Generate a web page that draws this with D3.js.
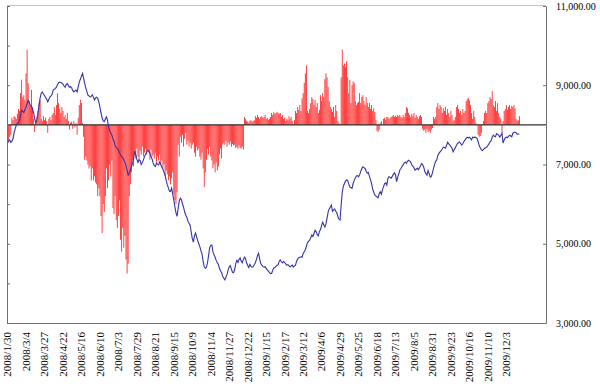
<!DOCTYPE html>
<html>
<head>
<meta charset="utf-8">
<script src="https://cdn.jsdelivr.net/npm/d3@7"></script>
<style>
   body { margin: 0; background: #fff; }
   svg text { font-family: "Liberation Serif", "Times New Roman", serif; fill: #000; }
</style>
</head>
<body>
<svg id="chart" width="600" height="387"></svg>
<script>
// one label every 17 trading days
var tickLabels = ["2008/1/30", "2008/3/4", "2008/3/27", "2008/4/22", "2008/5/16", "2008/6/10", "2008/7/3",
   "2008/7/29", "2008/8/21", "2008/9/15", "2008/10/9", "2008/11/4", "2008/11/27", "2008/12/22",
   "2009/1/15", "2009/2/17", "2009/3/12", "2009/4/6", "2009/4/29", "2009/5/25", "2009/6/18",
   "2009/7/13", "2009/8/5", "2009/8/31", "2009/9/23", "2009/10/16", "2009/11/10", "2009/12/3"];

// index close, one per trading day (right axis)
var indexVals = [
   7540, 7590, 7620, 7560, 7580, 7650, 7800, 7900, 7990, 8030,
   8060, 8120, 8250, 8370, 8340, 8310, 8380, 8450, 8540, 8620,
   8560, 8500, 8470, 8400, 8300, 8150, 8050, 8120, 8300, 8500,
   8680, 8800, 8830, 8780, 8740, 8690, 8650, 8580, 8640, 8700,
   8730, 8770, 8880, 8900, 8920, 8950, 9020, 9060, 9080, 9070,
   9050, 9030, 8980, 8950, 9020, 9040, 8990, 8950, 8970, 8930,
   8870, 8830, 8860, 8880, 8830, 8950, 9080, 9150, 9230, 9300,
   9180, 9050, 8930, 8840, 8750, 8730, 8700, 8720, 8760, 8700,
   8630, 8680, 8700, 8670, 8580, 8450, 8300, 8180, 8100, 8080,
   8150, 8200, 8120, 7950, 7850, 7790, 7740, 7650, 7580, 7470,
   7430, 7400, 7360, 7300, 7240, 7200, 7170, 7120, 7050, 6980,
   6850, 6730, 6780, 6860, 6940, 7030, 7150, 7340, 7250, 7130,
   7050, 7120, 7100, 7000, 7050, 7110, 7200, 7260, 7310, 7360,
   7340, 7290, 7200, 7140, 7040, 6970, 6950, 7030, 7010, 6990,
   7060, 7000, 6930, 6880, 6800, 6730, 6600, 6490, 6410, 6330,
   6320, 6400, 6250, 6100, 5930, 5780, 5690, 5900, 6080, 6150,
   6110, 6010, 5920, 5800, 5720, 5670, 5570, 5520, 5470, 5300,
   5130, 5040, 5200, 5270, 5170, 5080, 5000, 4920, 4820, 4740,
   4550, 4420, 4380, 4400, 4520, 4700, 4900, 4960, 4970, 4800,
   4720, 4660, 4580, 4520, 4480, 4380, 4320, 4270, 4180, 4130,
   4090, 4160, 4220, 4340, 4420, 4450, 4360, 4280, 4270, 4350,
   4500, 4580, 4530, 4600, 4640, 4560, 4520, 4600, 4660, 4620,
   4520, 4450, 4400, 4480, 4430, 4410, 4420, 4470, 4520, 4600,
   4700, 4760, 4620, 4500, 4460, 4430, 4410, 4420, 4380, 4340,
   4310, 4270, 4250, 4250, 4330, 4390, 4400, 4430, 4460, 4470,
   4560, 4590, 4540, 4520, 4550, 4530, 4490, 4460, 4470, 4440,
   4420, 4440, 4460, 4410, 4440, 4460, 4560, 4620, 4650, 4660,
   4670, 4660, 4750, 4800, 4850, 4930, 5030, 5060, 5090, 5150,
   5220, 5180, 5260, 5340, 5300, 5230, 5200, 5310, 5360, 5460,
   5540, 5480, 5420, 5500, 5640, 5800, 5880, 5930, 5980, 5820,
   5850, 5880, 5820, 5780, 5680, 5620, 5600, 5980, 6300, 6450,
   6520, 6580, 6610, 6600, 6510, 6430, 6420, 6400, 6520, 6600,
   6660, 6710, 6720, 6690, 6740, 6820, 6900, 6940, 6920, 6900,
   6830, 6780, 6800, 6700, 6620, 6520, 6380, 6300, 6230, 6200,
   6180, 6160, 6260, 6310, 6250, 6360, 6440, 6520, 6540, 6480,
   6650, 6690, 6680, 6650, 6700, 6750, 6790, 6740, 6570, 6680,
   6760, 6860, 6900, 6950, 6990, 7040, 7060, 7030, 7080, 7110,
   7090, 7060, 6990, 6960, 6920, 6860, 6880, 6910, 6870, 6920,
   6960, 7020, 7000, 6930, 6820, 6770, 6730, 6850, 6770, 6680,
   6700, 6790, 6900, 7010, 7080, 7120, 7230, 7280, 7320, 7350,
   7390, 7440, 7430, 7410, 7480, 7560, 7520, 7490, 7450, 7410,
   7320, 7380, 7420, 7480, 7530, 7550, 7570, 7530, 7490, 7530,
   7580, 7620, 7660, 7690, 7670, 7690, 7660, 7620, 7690, 7680,
   7690, 7680, 7660, 7580, 7480, 7420, 7370, 7350, 7380, 7410,
   7420, 7440, 7480, 7520, 7570, 7600, 7690, 7740, 7710, 7700,
   7780, 7760, 7740, 7690, 7740, 7790, 7540, 7620, 7670, 7690,
   7680, 7710, 7740, 7720, 7700, 7790, 7810, 7820, 7800, 7760,
   7770, 7770
];

// bar series, one per trading day (left axis, unlabeled)
var barVals = [
   -0.45, -0.4, -0.3, -0.25, 0.18, 0.12, 0.22, 0.2, 0.15, 0.28,
   0.4, 0.35, 0.8, 1.14, 0.7, 0.75, 0.62, 1.3, 1.9, 1.05,
   0.6, 0.5, 0.88, 0.45, 0.15, -0.18, 0.1, 0.2, 0.35, 0.55,
   0.62, 0.15, 0.1, 0.22, 0.12, 0.18, 0.1, -0.2, 0.15, 0.2,
   0.12, 0.25, 0.3, 0.45, 0.25, 0.5, 0.8, 0.55, 0.4, 0.3,
   0.45, 0.35, 0.2, 0.25, 0.15, 0.3, 0.1, -0.12, 0.05, 0.08,
   -0.1, 0.1, -0.05, 0.05, -0.25, 0.18, 0.5, 0.63, 0.55, 0.05,
   -0.3, -0.88, -0.8, -0.9, -1.0, -1.1, -1.05, -1.4, -1.1, -1.4,
   -1.3, -1.45, -1.5, -1.8, -1.6, -1.8, -2.3, -2.73, -2.0, -2.2,
   -1.8, -1.1, -1.6, -1.4, -1.0, -1.3, -0.9, -2.1, -2.25, -1.8,
   -2.4, -2.6, -2.3, -1.9, -2.9, -3.2, -2.6, -3.1, -2.8, -3.4,
   -3.75, -3.5, -1.8, -1.5, -1.2, -0.9, -1.05, -0.7, -0.85, -0.6,
   -0.8, -0.9, -0.65, -0.75, -0.55, -0.8, -0.7, -0.6, -0.75, -0.65,
   -0.7, -0.88, -0.63, -0.8, -0.75, -0.85, -0.7, -1.0, -0.8, -0.9,
   -0.75, -1.0, -0.9, -1.1, -1.0, -1.3, -1.15, -1.25, -1.4, -1.3,
   -1.5, -1.35, -1.2, -1.75, -1.9, -2.0, -1.7, -0.5, -0.8, -0.3,
   -0.45, -0.25, -0.55, -0.35, -0.2, -0.5, -0.4, -0.55, -0.45, -0.6,
   -0.5, -0.45, -0.7, -0.8, -0.55, -0.65, -0.6, -0.8, -0.88, -0.7,
   -1.1, -1.57, -1.2, -0.88, -0.6, -0.75, -0.55, -0.8, -0.9, -1.1,
   -1.0, -1.2, -0.95, -1.15, -1.05, -0.75, -0.6, -0.85, -0.5, -0.45,
   -0.5, -0.4, -0.55, -0.45, -0.5, -0.42, -0.55, -0.48, -0.52, -0.5,
   -0.58, -0.55, -0.6, -0.52, -0.58, -0.6, -0.55, -0.62, 0.2, 0.15,
   0.1, 0.08, 0.05, 0.1, 0.12, 0.08, 0.1, 0.12, 0.22, 0.18,
   0.25, 0.2, 0.15, 0.2, 0.22, 0.18, 0.2, 0.25, 0.15, 0.18,
   0.12, 0.15, 0.2, 0.3, 0.25, 0.32, 0.28, 0.3, 0.33, 0.3,
   0.28, 0.3, 0.2, 0.25, 0.15, 0.18, 0.1, 0.15, 0.12, 0.22,
   0.15, 0.2, 0.1, 0.02, 0.12, 0.35, 0.3, 0.45, 0.38, 0.5,
   0.35, 0.67, 0.8, 1.06, 1.3, 1.5, 0.35, 0.3, 0.4, 0.55,
   0.7, 0.65, 0.5, 0.63, 0.45, 0.55, 0.3, 0.38, 0.75, 0.6,
   0.8, 0.7, 1.15, 1.3, 1.2, 0.96, 0.6, 0.45, 0.4, 0.33,
   0.45, 0.2, 0.5, 0.35, 0.1, 0.05, 0.02, 1.2, 1.9, 1.5,
   1.55, 1.45, 1.6, 1.2, 0.8, 1.14, 0.55, 1.0, 1.1, 1.05,
   0.6, 0.5, 0.55, 0.58, 0.8, 0.55, 0.7, 0.75, 0.6, 0.5,
   0.7, 0.55, 0.45, 0.55, 0.4, 0.5, 0.35, 0.42, 0.33, 0.13,
   -0.15, -0.18, -0.12, 0.05, 0.1, 0.0, 0.15, 0.18, 0.13, 0.2,
   0.2, 0.15, 0.18, 0.2, 0.22, 0.25, 0.2, 0.23, 0.2, 0.25,
   0.22, 0.25, 0.2, 0.18, 0.25, 0.2, 0.3, 0.45, 0.42, 0.3,
   0.25, 0.2, 0.28, 0.22, 0.3, 0.18, 0.25, 0.2, 0.15, 0.22,
   0.25, 0.2, -0.1, -0.15, -0.12, -0.2, -0.1, -0.18, -0.15, -0.2,
   -0.12, -0.08, 0.2, 0.15, 0.2, 0.45, 0.55, 0.4, 0.5, 0.45,
   0.3, 0.42, 0.35, 0.45, 0.25, 0.4, 0.3, 0.2, 0.35, 0.25,
   0.1, 0.12, 0.2, 0.45, 0.5, 0.4, 0.3, 0.35, 0.25, 0.4,
   0.3, 0.35, 0.6, 0.65, 0.68, 0.62, 0.5, 0.3, 0.15, 0.35,
   0.2, 0.05, 0.02, -0.25, -0.3, -0.28, -0.2, 0.02, 0.1, 0.3,
   0.35, 0.3, 0.55, 0.6, 0.7, 0.65, 0.85, 0.5, 0.45, 0.6,
   0.35, 0.55, 0.3, 0.2, 0.15, -0.2, 0.1, 0.35, 0.4, 0.5,
   0.38, 0.45, 0.5, 0.4, 0.48, 0.45, 0.5, 0.42, 0.15, 0.1,
   0.12, 0.22
];

var rightTicks = [3000, 5000, 7000, 9000, 11000];

(function () {
   "use strict";

   var svg = d3.select('#chart'),
      left = 7,
      right = 546,
      top = 6,
      bottom = 323,
      slots = 496,
      labelStep = 17,
      x = d3.scaleBand().domain(d3.range(slots)).range([left, right]).padding(0),
      y = d3.scaleLinear().domain([3000, 11000]).range([bottom, top]),
      yBar = d3.scaleLinear().domain([-5, 3]).range([bottom, top]),
      bw = x.bandwidth(),
      tickIdx = tickLabels.map(function (d, k) { return k * labelStep; }),
      line;

   //top border
   svg.append('line')
      .attr('x1', left).attr('x2', right)
      .attr('y1', top - 0.5).attr('y2', top - 0.5)
      .attr('stroke', '#c4c4c4');

   //bars from the zero line
   svg.append('g').selectAll('rect')
      .data(barVals)
      .enter().append('rect')
      .attr('x', function (d, i) { return x(i) + bw * 0.12; })
      .attr('width', bw * 0.76)
      .attr('y', function (d) { return Math.min(yBar(d), yBar(0)); })
      .attr('height', function (d) { return Math.abs(yBar(d) - yBar(0)); })
      .attr('fill', '#ff0000')
      .attr('fill-opacity', 0.9);

   //zero line
   svg.append('line')
      .attr('x1', left).attr('x2', right)
      .attr('y1', yBar(0)).attr('y2', yBar(0))
      .attr('stroke', '#303030')
      .attr('stroke-width', 1.3);

   //index line
   line = d3.line()
      .x(function (d, i) { return x(i) + bw / 2; })
      .y(function (d) { return y(d); });

   svg.append('path')
      .datum(indexVals)
      .attr('d', line)
      .attr('fill', 'none')
      .attr('stroke', '#3434a8')
      .attr('stroke-width', 1.1);

   //left axis, ticks only
   svg.append('g')
      .attr('transform', 'translate(' + left + ',0)')
      .call(d3.axisLeft(yBar).ticks(8).tickSizeInner(-3).tickSizeOuter(0).tickFormat(''))
      .call(function (g) { g.selectAll('line, path').attr('stroke', '#707070'); });

   //right axis
   svg.append('g')
      .attr('transform', 'translate(' + right + ',0)')
      .call(d3.axisRight(y).tickValues(rightTicks).tickSizeInner(-3).tickSizeOuter(0)
         .tickPadding(10).tickFormat(d3.format(',.2f')))
      .call(function (g) {
         g.selectAll('line, path').attr('stroke', '#707070');
         g.selectAll('text').style('font-size', '10px');
      });

   //bottom axis, rotated date labels
   svg.append('g')
      .attr('transform', 'translate(0,' + bottom + ')')
      .call(d3.axisBottom(x).tickValues(tickIdx).tickSize(0)
         .tickFormat(function (i) { return tickLabels[i / labelStep]; }))
      .call(function (g) {
         g.select('.domain').attr('stroke', '#707070');
         g.selectAll('text')
            .style('font-size', '11px')
            .attr('text-anchor', 'end')
            .attr('transform', 'rotate(-90)')
            .attr('x', -9)
            .attr('y', 0)
            .attr('dy', '0.35em');
      });
}());
</script>
</body>
</html>
